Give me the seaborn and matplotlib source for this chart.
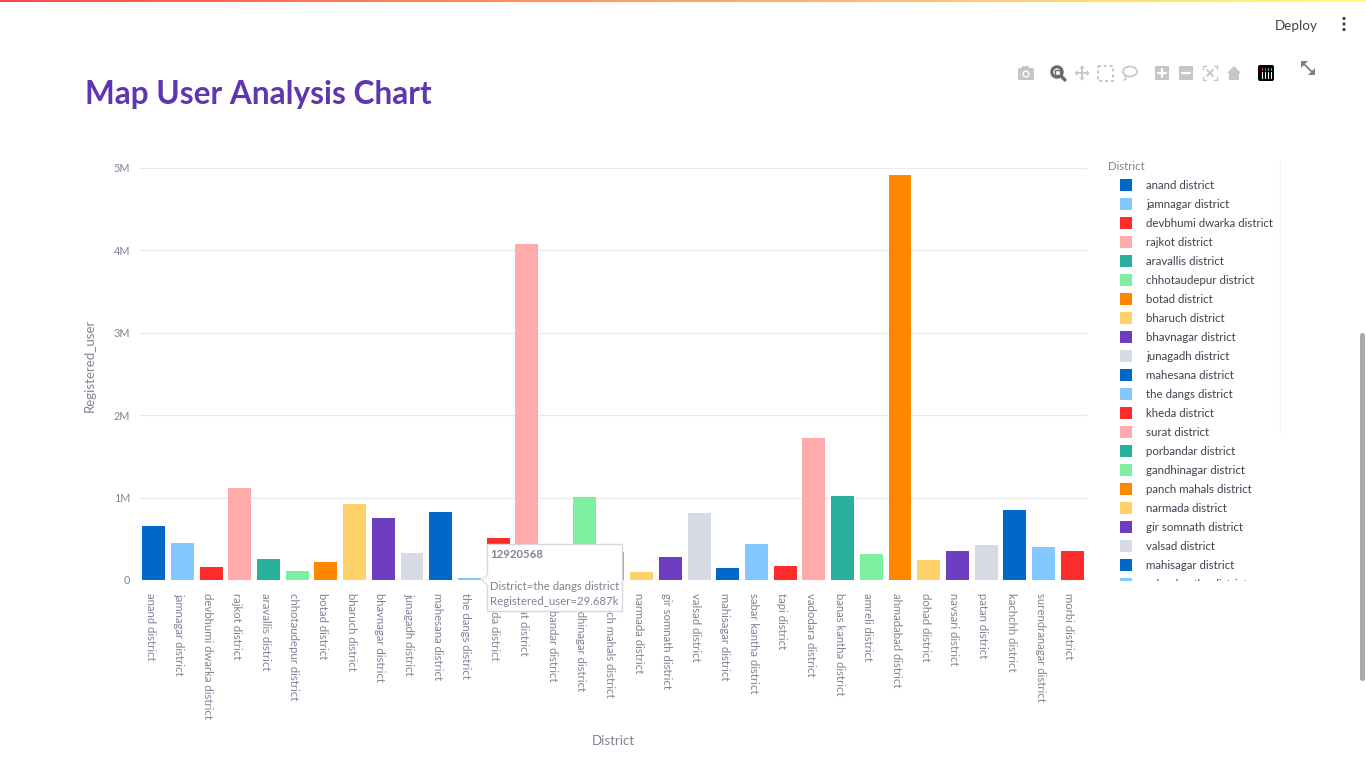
import numpy as np
import pandas as pd
import matplotlib
matplotlib.use("Agg")
import matplotlib.pyplot as plt
from matplotlib.patches import Rectangle, Polygon, Circle, FancyBboxPatch, Ellipse
from matplotlib.colors import LinearSegmentedColormap
from matplotlib.transforms import ScaledTranslation
import seaborn as sns

districts = ["anand district", "jamnagar district", "devbhumi dwarka district", "rajkot district",
             "aravallis district", "chhotaudepur district", "botad district", "bharuch district",
             "bhavnagar district", "junagadh district", "mahesana district", "the dangs district",
             "kheda district", "surat district", "porbandar district", "gandhinagar district",
             "panch mahals district", "narmada district", "gir somnath district", "valsad district",
             "mahisagar district", "sabar kantha district", "tapi district", "vadodara district",
             "banas kantha district", "amreli district", "ahmadabad district", "dohad district",
             "navsari district", "patan district", "kachchh district", "surendranagar district",
             "morbi district"]
registered_user = [650000, 450000, 155000, 1120000, 250000, 105000, 215000, 920000, 755000, 325000,
                   830000, 29687, 510000, 4080000, 140000, 1005000, 335000, 92000, 278000, 815000,
                   148000, 435000, 168000, 1720000, 1025000, 318000, 4910000, 248000, 355000, 420000,
                   850000, 400000, 348000]
base_colors = ["#0068C9", "#83C9FF", "#FF2B2B", "#FFABAB", "#29B09D",
               "#7DEFA1", "#FF8700", "#FFD16A", "#6D3FC0", "#D5DAE5"]
y_ticks = [0, 1000000, 2000000, 3000000, 4000000, 5000000]
y_tick_labels = ["0", "1M", "2M", "3M", "4M", "5M"]

W, H = 1366, 768
sns.set_theme(style="white")
plt.rcParams["font.family"] = ["Lato", "Noto Sans", "DejaVu Sans"]
GREY = "#7d8494"
DARK = "#3f4250"

df = pd.DataFrame({"District": districts, "Registered_user": registered_user})
palette = {d: base_colors[i % 10] for i, d in enumerate(districts)}

fig = plt.figure(figsize=(W / 100, H / 100), dpi=100, facecolor="white")
L, R, T, B = 139.3, 1086.6, 168, 580
ax = fig.add_axes([L / W, 1 - B / H, (R - L) / W, (B - T) / H])
sns.barplot(data=df, x="District", y="Registered_user", hue="District", palette=palette,
            dodge=False, width=0.8, saturation=1, legend=False, ax=ax, linewidth=0)
ax.set_xlim(-0.5, len(districts) - 0.5)
ax.set_ylim(0, 5000000)
ax.set_yticks(y_ticks)
ax.set_yticklabels(y_tick_labels, color=GREY, fontsize=7.8)
ax.set_xticks(range(len(districts)))
ax.set_xticklabels(districts, rotation=270, color=GREY, fontsize=8.2, ha="center", va="top")
ax.tick_params(axis="y", length=0, pad=6.5)
ax.tick_params(axis="x", length=0, pad=9.5)
shift = ScaledTranslation(-2.5 / 72, 0, fig.dpi_scale_trans)
for lab in ax.get_xticklabels():
    lab.set_transform(lab.get_transform() + shift)
ax.grid(axis="y", color="#e6e9ef", linewidth=0.8)
ax.set_axisbelow(True)
for s in ax.spines.values():
    s.set_visible(False)
ax.set_xlabel("")
ax.set_ylabel("")

fig.text(613 / W, 1 - 741 / H, "District", color=GREY, fontsize=9.5, ha="center", va="center")
fig.text(90 / W, 1 - 365 / H, "Registered_user", color=GREY, fontsize=9.5, rotation=90,
         ha="center", va="center")
fig.text(85 / W, 1 - 94.5 / H, "Map User Analysis Chart", color="#5F36B0", fontsize=22.8,
         fontweight="bold", ha="left", va="center")

# overlay in pixel coordinates for legend, tooltip and page chrome
ov = fig.add_axes([0, 0, 1, 1], zorder=10)
ov.set_xlim(0, W)
ov.set_ylim(H, 0)
ov.axis("off")
ov.patch.set_alpha(0)

# legend
ov.text(1108, 166, "District", color=GREY, fontsize=8.2, ha="left", va="center")
for i, d in enumerate(districts[:21]):
    y = 184.5 + 19 * i
    ov.add_patch(Rectangle((1120, y - 6), 12, 12, color=palette[d], lw=0))
    ov.text(1146, y + 0.7, d, color=DARK, fontsize=8.25, ha="left", va="center")
ov.add_patch(Rectangle((1120, 577.5), 12, 3, color=palette[districts[21]], lw=0))
clipped = ov.text(1146, 584.2, districts[21], color=DARK, fontsize=8.25, ha="left", va="center")
clipped.set_clip_on(True)
clipped.set_clip_path(Rectangle((1100, 560), 200, 21, transform=ov.transData))
ov.plot([1280, 1280], [160, 432], color="#f4f5f7", lw=1)

# tooltip
ov.add_patch(Polygon([[482, 580], [488, 574], [488, 586]], closed=True, fc="white", ec="#d5d8de", lw=0.8, zorder=5))
ov.add_patch(Rectangle((487, 544), 135, 67, fc="white", ec="#d5d8de", lw=1, zorder=5))
ov.add_patch(Rectangle((486.5, 575), 2, 10, fc="white", ec="none", zorder=6))
ov.text(490, 555, "12920568", color=GREY, fontsize=8.2, fontweight="bold", va="center", zorder=7)
ov.text(490, 586.5, "District=the dangs district", color=GREY, fontsize=8.2, va="center", zorder=7)
ov.text(490, 601.5, "Registered_user=29.687k", color=GREY, fontsize=8.2, va="center", zorder=7)

# top gradient bar
cmap = LinearSegmentedColormap.from_list("top", ["#FF4B4B", "#FFFD80"])
ov.imshow(np.linspace(0, 1, 256)[None, :], extent=(0, W, 2, 0), cmap=cmap, aspect="auto", zorder=8)
ov.set_xlim(0, W)
ov.set_ylim(H, 0)

# Deploy and menu
ov.text(1296, 25.5, "Deploy", color=DARK, fontsize=9.7, ha="center", va="center")
for y in (18.5, 24, 29.5):
    ov.add_patch(Circle((1344, y), 1.6, color=DARK, lw=0))

# modebar icons
ICON = "#c6c6c6"
ov.add_patch(FancyBboxPatch((1018, 68), 16, 12, boxstyle="round,pad=0,rounding_size=1.5", fc=ICON, ec="none"))
ov.add_patch(Rectangle((1022, 66), 7, 3, fc=ICON, ec="none"))
ov.add_patch(Circle((1026, 74), 3.6, fc="white", ec="none"))
ov.add_patch(Circle((1026, 74), 2.2, fc=ICON, ec="none"))
ov.add_patch(Circle((1057, 72), 5.2, fc="white", ec="#696969", lw=2.2))
ov.add_patch(Rectangle((1054.5, 69.5), 5, 5, fc="white", ec="#696969", lw=1))
ov.plot([1061, 1065], [76, 80], color="#696969", lw=2.4)
ov.plot([1076, 1088], [73, 73], color=ICON, lw=1.3)
ov.plot([1082, 1082], [67, 79], color=ICON, lw=1.3)
for pts in ([[1082, 65.5], [1079, 68.5], [1085, 68.5]], [[1082, 80.5], [1079, 77.5], [1085, 77.5]],
            [[1074.5, 73], [1077.5, 70], [1077.5, 76]], [[1089.5, 73], [1086.5, 70], [1086.5, 76]]):
    ov.add_patch(Polygon(pts, closed=True, fc=ICON, ec="none"))
ov.add_patch(Rectangle((1098, 65.5), 15, 15, fc="none", ec=ICON, lw=1.4, ls=(0, (1.5, 1.5))))
ov.add_patch(Ellipse((1130, 71.5), 14, 10, fc="none", ec=ICON, lw=1.2))
ov.plot([1125, 1126, 1124], [75, 79, 80], color=ICON, lw=1.1)
ov.add_patch(Rectangle((1155, 66), 14, 14, fc=ICON, ec="none"))
ov.plot([1158, 1166], [73, 73], color="white", lw=1.6)
ov.plot([1162, 1162], [69, 77], color="white", lw=1.6)
ov.add_patch(Rectangle((1179, 66), 14, 14, fc=ICON, ec="none"))
ov.plot([1182, 1190], [73, 73], color="white", lw=1.6)
for sx in (1203, 1217):
    for sy in (66, 80):
        dx = 3 if sx == 1203 else -3
        dy = 3 if sy == 66 else -3
        ov.plot([sx + dx, sx, sx], [sy, sy, sy + dy], color=ICON, lw=1)
ov.plot([1207, 1213], [70, 76], color=ICON, lw=1.3)
ov.plot([1207, 1213], [76, 70], color=ICON, lw=1.3)
ov.add_patch(Polygon([[1227, 73], [1234, 66], [1241, 73], [1239, 73], [1239, 80], [1229, 80], [1229, 73]],
                     closed=True, fc=ICON, ec="none"))
ov.add_patch(FancyBboxPatch((1258, 65), 16, 16, boxstyle="round,pad=0,rounding_size=2", fc="black", ec="none"))
for x, c in zip((1261.5, 1264.5, 1267.5, 1270.5), ("#ff2e7e", "#ff2e7e", "#39c6e6", "#39c6e6")):
    ov.plot([x, x], [72, 78], color="white", lw=0.8)
    ov.plot([x, x], [68, 69.5], color=c, lw=0.8)
ov.plot([1304, 1312], [64, 72], color="#7f7f7f", lw=1.3)
ov.add_patch(Polygon([[1301, 61], [1308, 61], [1301, 68]], closed=True, fc="#7f7f7f", ec="none"))
ov.add_patch(Polygon([[1315, 75], [1308, 75], [1315, 68]], closed=True, fc="#7f7f7f", ec="none"))

# scrollbar
ov.add_patch(FancyBboxPatch((1360, 333), 5, 348, boxstyle="round,pad=0,rounding_size=2.5", fc="#a9a9b0", ec="none"))

fig.savefig("out.png", dpi=100)
